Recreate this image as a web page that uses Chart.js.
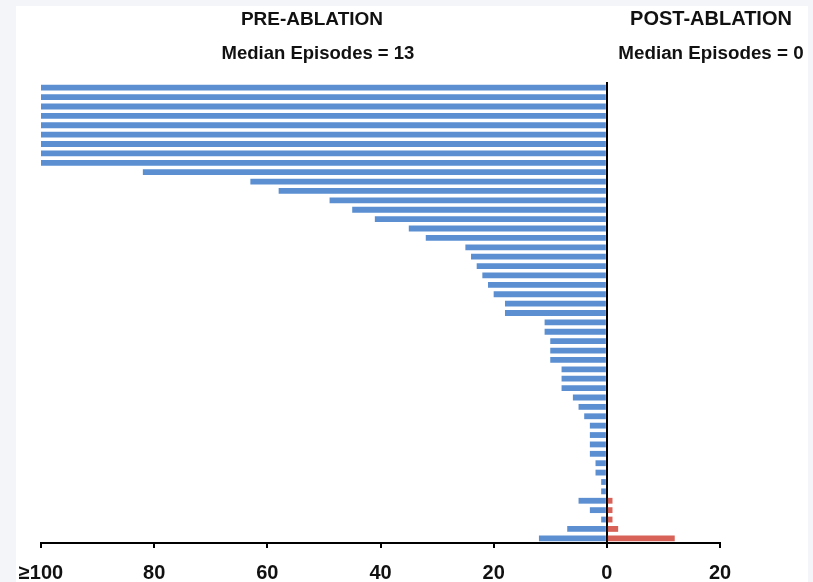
<!DOCTYPE html>
<html>
<head>
<meta charset="utf-8">
<script src="https://cdn.jsdelivr.net/npm/chart.js@4.4.1/dist/chart.umd.min.js"></script>
<style>
	body { margin: 0; background: #f4f5f8; }
	#panel { position: absolute; left: 16px; top: 6px; width: 792px; height: 576px; background: #fff; }
	#wrap { position: absolute; left: 0; top: 0; width: 813px; height: 582px; }
</style>
</head>
<body>
<div id="panel"></div>
<div id="wrap"><canvas id="episodes" width="813" height="582"></canvas></div>
<script>
// episodes per patient, sorted by pre-ablation count (100 means >=100)
const preAblation = [100, 100, 100, 100, 100, 100, 100, 100, 100,
	82, 63, 58, 49, 45, 41, 35, 32, 25, 24, 23, 22, 21, 20, 18, 18,
	11, 11, 10, 10, 10, 8, 8, 8, 6, 5, 4, 3, 3, 3, 3, 2, 2, 1, 1,
	5, 3, 1, 7, 12];
const postAblation = [0, 0, 0, 0, 0, 0, 0, 0, 0,
	0, 0, 0, 0, 0, 0, 0, 0, 0, 0, 0, 0, 0, 0, 0, 0,
	0, 0, 0, 0, 0, 0, 0, 0, 0, 0, 0, 0, 0, 0, 0, 0, 0, 0, 0,
	1, 1, 1, 2, 12];
const patients = preAblation.map((_, i) => 'Patient ' + (i + 1));
const tickValues = [-100, -80, -60, -40, -20, 0, 20];

const headings = [
	{ text: 'PRE-ABLATION', x: 312, y: 25, size: 19 },
	{ text: 'Median Episodes = 13', x: 318, y: 59, size: 18.5 },
	{ text: 'POST-ABLATION', x: 711, y: 25, size: 20 },
	{ text: 'Median Episodes = 0', x: 711, y: 59, size: 18.8 }
];

// draw the two header blocks above the bars
const headerPlugin = {
	id: 'headers',
	afterDraw(chart){
		let ctx = chart.ctx;
		ctx.save();
		ctx.fillStyle = '#111';
		ctx.textAlign = 'center';
		ctx.textBaseline = 'alphabetic';
		headings.forEach(h => {
			ctx.font = 'bold ' + h.size + 'px "Liberation Sans", Arial, sans-serif';
			ctx.fillText(h.text, h.x, h.y);
		});
		ctx.restore();
	}
};

document.addEventListener('DOMContentLoaded', () => {
	let ctx = document.querySelector('#episodes').getContext('2d');
	new Chart(ctx, {
		type: 'bar',
		data: {
			labels: patients,
			datasets: [{
				label: 'Pre-ablation',
				data: preAblation.map(v => -v),
				backgroundColor: 'rgb(91, 143, 210)',
				barPercentage: 0.62,
				categoryPercentage: 1
			}, {
				label: 'Post-ablation',
				data: postAblation,
				backgroundColor: 'rgb(216, 98, 88)',
				barPercentage: 0.62,
				categoryPercentage: 1
			}]
		},
		options: {
			indexAxis: 'y',
			responsive: false,
			animation: false,
			layout: { padding: { left: 41, right: 93, top: 83, bottom: -16 } },
			plugins: { legend: { display: false }, tooltip: { enabled: false } },
			scales: {
				x: {
					type: 'linear',
					stacked: true,
					min: -100,
					max: 20,
					afterBuildTicks: axis => { axis.ticks = tickValues.map(v => ({ value: v })); },
					ticks: {
						color: '#111',
						padding: 13,
						maxRotation: 0,
						font: { family: '"Liberation Sans", Arial, sans-serif', size: 20, weight: 'bold' },
						callback: v => v === -100 ? '≥100' : Math.abs(v)
					},
					grid: { drawOnChartArea: false, drawTicks: true, tickLength: 5, color: '#000', lineWidth: 2 },
					border: { color: '#000', width: 2 }
				},
				y: {
					type: 'category',
					stacked: true,
					position: { x: 0 },
					ticks: { display: false },
					grid: { drawOnChartArea: false, drawTicks: false },
					border: { color: '#000', width: 2 }
				}
			}
		},
		plugins: [headerPlugin]
	});
});
</script>
</body>
</html>
